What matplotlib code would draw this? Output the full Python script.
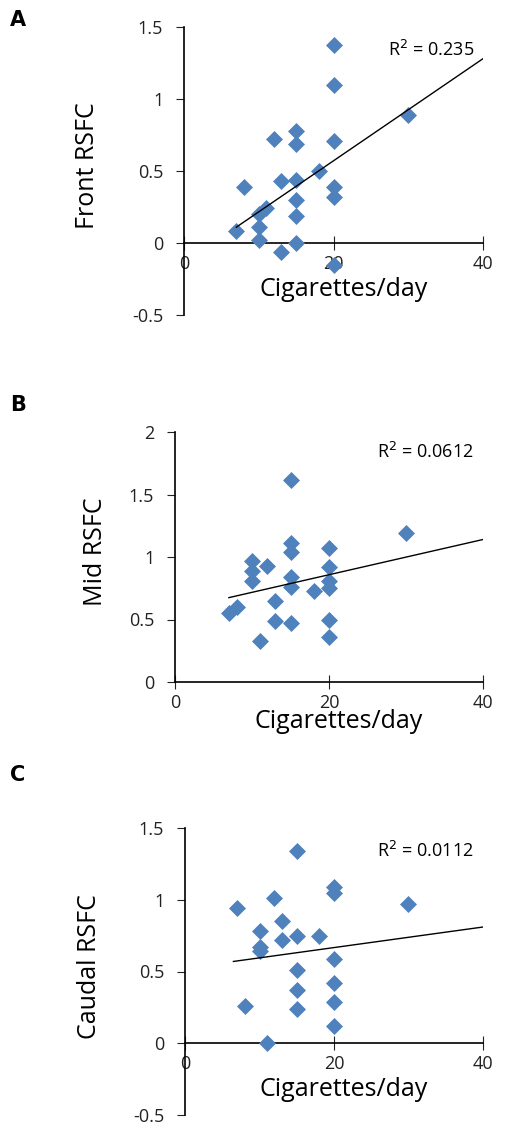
import matplotlib
matplotlib.use("Agg")
import matplotlib.pyplot as plt

plt.rcParams['font.family'] = ['Open Sans', 'DejaVu Sans']

xa = [20, 20, 30, 12, 15, 15, 20, 18, 13, 15, 8, 20, 20, 15, 11, 10, 15, 10, 7, 10, 15, 13, 20]
ya = [1.375, 1.10, 0.89, 0.72, 0.78, 0.69, 0.71, 0.50, 0.43, 0.44, 0.39, 0.39, 0.32, 0.30, 0.24, 0.20, 0.19, 0.11, 0.08, 0.02, 0.0, -0.06, -0.15]
xb = [15, 30, 15, 15, 20, 10, 12, 10, 20, 10, 15, 15, 20, 18, 20, 13, 8, 7, 13, 15, 20, 20, 11]
yb = [1.62, 1.19, 1.11, 1.04, 1.07, 0.97, 0.93, 0.89, 0.92, 0.81, 0.84, 0.76, 0.81, 0.73, 0.75, 0.65, 0.60, 0.55, 0.49, 0.47, 0.50, 0.36, 0.33]
xc = [15, 20, 20, 12, 7, 30, 13, 10, 13, 15, 18, 10, 10, 20, 15, 20, 15, 20, 8, 15, 20, 11]
yc = [1.34, 1.09, 1.05, 1.01, 0.94, 0.97, 0.85, 0.78, 0.72, 0.75, 0.75, 0.67, 0.64, 0.59, 0.51, 0.42, 0.37, 0.29, 0.26, 0.24, 0.12, 0.0]
trend_x = [[7, 40], [7, 40], [6.5, 40]]
trend_y = [[0.11, 1.28], [0.675, 1.14], [0.57, 0.81]]
r2 = ["0.235", "0.0612", "0.0112"]
ylabels = ["Front RSFC", "Mid RSFC", "Caudal RSFC"]
letters = ["A", "B", "C"]
ylims = [(-0.5, 1.5), (0, 2), (-0.5, 1.5)]
yticks = [[-0.5, 0, 0.5, 1, 1.5], [0, 0.5, 1, 1.5, 2], [-0.5, 0, 0.5, 1, 1.5]]
yticklabels = [["-0.5", "0", "0.5", "1", "1.5"], ["0", "0.5", "1", "1.5", "2"], ["-0.5", "0", "0.5", "1", "1.5"]]
xticks = [0, 20, 40]

W, H = 531, 1141
fig = plt.figure(figsize=(W/100, H/100), dpi=100)
boxes = [(184, 483, 27, 315), (175, 483, 432, 682), (185, 483, 828, 1115)]
xlabel_y = [290, 722, 1090]
ylabel_x = [88, 95, 90]
letter_y = [20, 405, 775]
data = [(xa, ya), (xb, yb), (xc, yc)]
blue = '#4F81BD'
for i in range(3):
    l, r, t, b = boxes[i]
    ax = fig.add_axes([l/W, 1-b/H, (r-l)/W, (b-t)/H])
    x, y = data[i]
    ax.scatter(x, y, marker='D', s=75, color=blue, zorder=3, linewidths=0)
    ax.plot(trend_x[i], trend_y[i], color='black', lw=1, zorder=4)
    ax.set_xlim(0, 40)
    ax.set_ylim(*ylims[i])
    ax.set_yticks(yticks[i])
    ax.set_yticklabels(yticklabels[i])
    ax.set_xticks(xticks)
    ax.set_xticklabels([str(v) for v in xticks])
    for s in ['top', 'right']:
        ax.spines[s].set_visible(False)
    ax.spines['bottom'].set_position(('data', 0))
    ax.spines['left'].set_linewidth(1.2)
    ax.spines['bottom'].set_linewidth(1.2)
    ax.tick_params(axis='y', direction='out', length=6, labelsize=13, pad=9, colors='#222222')
    ax.tick_params(axis='x', direction='inout', length=10, labelsize=13, colors='#222222')
    ax.text(0.97, 0.92, r'R$^2$ = ' + r2[i], transform=ax.transAxes, ha='right', va='center', fontsize=13)
    fig.text(((l+r)/2 + 10)/W, 1-xlabel_y[i]/H, "Cigarettes/day", ha='center', va='center', fontsize=18)
    fig.text(ylabel_x[i]/W, 1-((t+b)/2 - 5)/H, ylabels[i], rotation=90, ha='center', va='center', fontsize=18)
    fig.text(18/W, 1-letter_y[i]/H, letters[i], ha='center', va='center', fontsize=15, fontweight='bold', family=['DejaVu Sans'])

fig.savefig("out.png", dpi=100)
